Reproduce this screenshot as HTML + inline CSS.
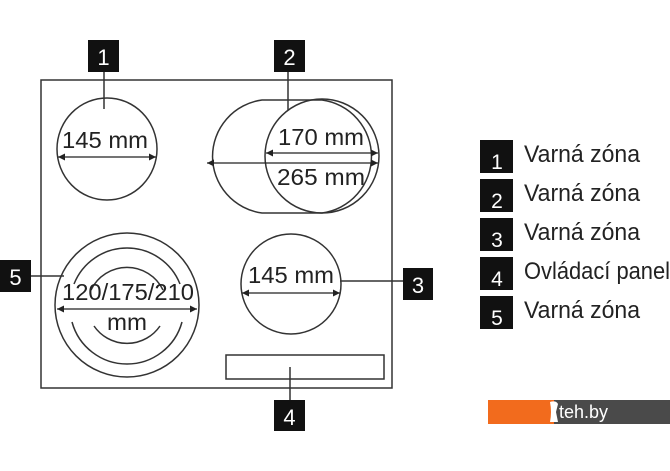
<!DOCTYPE html>
<html><head><meta charset="utf-8"><style>
body{margin:0;background:#fff;width:670px;height:471px;overflow:hidden}
svg{display:block}
text{font-family:"Liberation Sans",sans-serif;fill:#222}
</style></head><body>
<svg width="670" height="471" viewBox="0 0 670 471" xmlns="http://www.w3.org/2000/svg">
<defs>
<marker id="a" viewBox="0 0 10 10" refX="10" refY="5" markerWidth="12" markerHeight="7" orient="auto-start-reverse" markerUnits="userSpaceOnUse"><path d="M0,0L10,5L0,10z" fill="#222"/></marker>
</defs>
<g fill="none" stroke="#333" stroke-width="1.5">
<rect x="41" y="80" width="351" height="308"/>
<ellipse cx="107" cy="149" rx="50" ry="51"/>
<line x1="104" y1="72" x2="104" y2="109"/>
<path d="M262,100 L322,100 A57,57 0 0 1 322,213 L262,213 A57,57 0 0 1 262,100 Z"/>
<circle cx="322" cy="156" r="57"/>
<line x1="288" y1="72" x2="288" y2="110"/>
<circle cx="127" cy="305" r="72"/>
<path d="M74,284 A57,57 0 0 1 180,284"/>
<path d="M72,322 A57,57 0 0 0 182,322"/>
<path d="M91,290 A40,40 0 0 1 163,290"/>
<path d="M94,326 A40,40 0 0 0 160,326"/>
<line x1="31" y1="276" x2="64" y2="276"/>
<circle cx="291" cy="284" r="50"/>
<line x1="340" y1="281" x2="403" y2="281"/>
<rect x="226" y="355" width="158" height="24"/>
<line x1="290" y1="367" x2="290" y2="400"/>
</g>
<g stroke="#222" stroke-width="1.3">
<line x1="58" y1="157" x2="156" y2="157" marker-start="url(#a)" marker-end="url(#a)"/>
<line x1="266" y1="153" x2="378" y2="153" marker-start="url(#a)" marker-end="url(#a)"/>
<line x1="207" y1="163" x2="378" y2="163" marker-start="url(#a)" marker-end="url(#a)"/>
<line x1="57" y1="309" x2="197" y2="309" marker-start="url(#a)" marker-end="url(#a)"/>
<line x1="242" y1="293" x2="340" y2="293" marker-start="url(#a)" marker-end="url(#a)"/>
</g>
<g font-size="23">
<text x="62" y="148" textLength="86" lengthAdjust="spacingAndGlyphs">145 mm</text>
<text x="278" y="145" textLength="86" lengthAdjust="spacingAndGlyphs">170 mm</text>
<text x="277" y="185" textLength="88" lengthAdjust="spacingAndGlyphs">265 mm</text>
<text x="62" y="300" textLength="132" lengthAdjust="spacingAndGlyphs">120/175/210</text>
<text x="107" y="330" textLength="40" lengthAdjust="spacingAndGlyphs">mm</text>
<text x="248" y="283" textLength="86" lengthAdjust="spacingAndGlyphs">145 mm</text>
</g>
<g fill="#111">
<rect x="88" y="40" width="31" height="32"/>
<rect x="274" y="40" width="31" height="32"/>
<rect x="403" y="268" width="30" height="32"/>
<rect x="274" y="400" width="31" height="31"/>
<rect x="0" y="260" width="31" height="32"/>
</g>
<g font-size="22" text-anchor="middle">
<text x="103.5" y="65" style="fill:#fff">1</text>
<text x="289.5" y="65" style="fill:#fff">2</text>
<text x="418" y="293" style="fill:#fff">3</text>
<text x="289.5" y="425" style="fill:#fff">4</text>
<text x="15.5" y="285" style="fill:#fff">5</text>
</g>
<g fill="#111">
<rect x="480" y="140" width="33" height="33"/>
<rect x="480" y="179" width="33" height="33"/>
<rect x="480" y="218" width="33" height="33"/>
<rect x="480" y="257" width="33" height="33"/>
<rect x="480" y="296" width="33" height="33"/>
</g>
<g font-size="21" text-anchor="middle">
<text x="497" y="169" style="fill:#fff">1</text>
<text x="497" y="208" style="fill:#fff">2</text>
<text x="497" y="247" style="fill:#fff">3</text>
<text x="497" y="286" style="fill:#fff">4</text>
<text x="497" y="325" style="fill:#fff">5</text>
</g>
<g font-size="24">
<text x="524" y="162" textLength="116" lengthAdjust="spacingAndGlyphs">Varná zóna</text>
<text x="524" y="201" textLength="116" lengthAdjust="spacingAndGlyphs">Varná zóna</text>
<text x="524" y="240" textLength="116" lengthAdjust="spacingAndGlyphs">Varná zóna</text>
<text x="524" y="279" textLength="146" lengthAdjust="spacingAndGlyphs">Ovládací panel</text>
<text x="524" y="318" textLength="116" lengthAdjust="spacingAndGlyphs">Varná zóna</text>
</g>
<rect x="488" y="400" width="66" height="24" fill="#f26b1d"/>
<rect x="554" y="400" width="116" height="24" fill="#4a4a4a"/>
<path d="M550,402 Q556,400 558,404 L556,412 L558,422 L550,422 Q552,412 550,402Z" fill="#fff"/>
<text x="559" y="418" font-size="18" style="fill:#fff">teh.by</text>
</svg>
</body></html>
